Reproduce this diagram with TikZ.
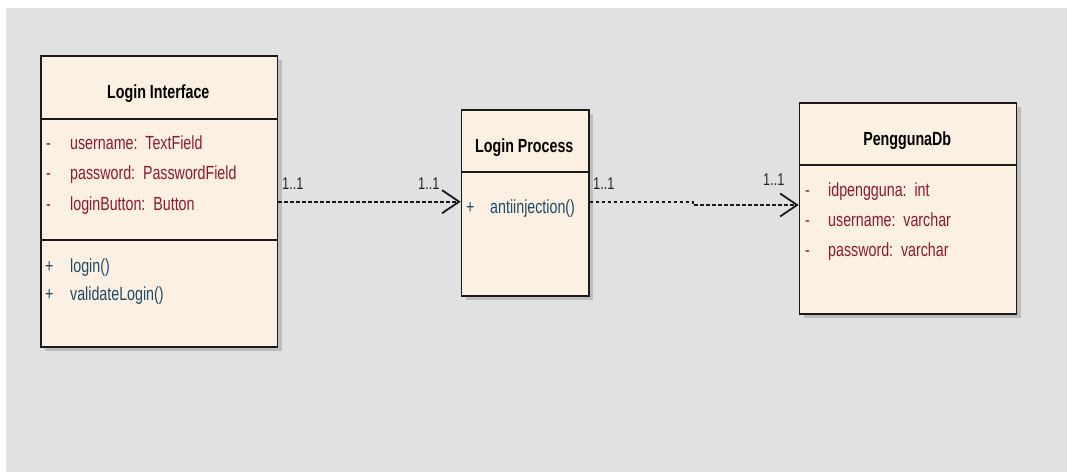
\documentclass[tikz,border=0pt]{standalone}
\usepackage{fontspec}
\setmainfont{Liberation Sans}[FakeStretch=0.75]
\usetikzlibrary{arrows.meta,shadows}
\definecolor{bg}{HTML}{E1E1E1}
\definecolor{boxfill}{HTML}{FBF0E1}
\definecolor{shade}{HTML}{BDBDBD}
\definecolor{attr}{HTML}{8E1B2C}
\definecolor{meth}{HTML}{1F4B68}
\definecolor{edge}{HTML}{1A1A1A}
\tikzset{
  umlbox/.style={draw=edge, line width=1.6pt, fill=boxfill, anchor=north west, inner sep=0pt,
    general shadow={fill=shade, shadow xshift=4pt, shadow yshift=-4pt}},
  divider/.style={draw=edge, line width=1.6pt},
  title/.style={font=\fontsize{19}{21}\selectfont\bfseries, anchor=base, inner sep=0pt, text=black},
  attrtxt/.style={font=\fontsize{19}{21}\selectfont, anchor=base west, inner sep=0pt, text=attr},
  methtxt/.style={font=\fontsize{19}{21}\selectfont, anchor=base west, inner sep=0pt, text=meth},
  mult/.style={font=\fontsize{17}{19}\selectfont, anchor=base west, inner sep=0pt, text=black!85},
  dep/.style={draw=edge, line width=2pt, dash pattern=on 3.5pt off 2.5pt,
    -{Straight Barb[length=17pt,width=23pt,line width=1.8pt]}}
}
\begin{document}
\begin{tikzpicture}[x=1pt,y=-1pt]
\useasboundingbox (0,0) rectangle (1067,472);
\fill[white] (0,0) rectangle (1067,472);
\fill[bg] (6,8) rectangle (1067,472);

% Login Interface
\node[umlbox, minimum width=236.7pt, minimum height=291pt] (li) at (40,55) {};
\draw[divider] (li.west |- 0,119) -- (li.east |- 0,119);
\draw[divider] (li.west |- 0,240) -- (li.east |- 0,240);
\node[title] (lit) at (158.3,98) {Login Interface};
\node[attrtxt] (lia1d) at (46,149) {-};
\node[attrtxt] (lia1) at (70,149) {username:\ \ TextField};
\node[attrtxt] (lia2d) at (46,179) {-};
\node[attrtxt] (lia2) at (70,179) {password:\ \ PasswordField};
\node[attrtxt] (lia3d) at (46,210) {-};
\node[attrtxt] (lia3) at (70,210) {loginButton:\ \ Button};
\node[methtxt] (lim1p) at (45,272) {+};
\node[methtxt] (lim1) at (70,272) {login()};
\node[methtxt] (lim2p) at (45,300) {+};
\node[methtxt] (lim2) at (70,300) {validateLogin()};

% Login Process
\node[umlbox, minimum width=127.3pt, minimum height=186pt] (lp) at (460.7,109) {};
\draw[divider] (lp.west |- 0,172) -- (lp.east |- 0,172);
\node[title] (lpt) at (524.3,152) {Login Process};
\node[methtxt] (lpm1p) at (466,213) {+};
\node[methtxt] (lpm1) at (490,213) {antiinjection()};

% PenggunaDb
\node[umlbox, minimum width=217pt, minimum height=211pt] (db) at (798.7,102) {};
\draw[divider] (db.west |- 0,165) -- (db.east |- 0,165);
\node[title] (dbt) at (907.2,145) {PenggunaDb};
\node[attrtxt] (dba1d) at (805,196) {-};
\node[attrtxt] (dba1) at (828,196) {idpengguna:\ \ int};
\node[attrtxt] (dba2d) at (805,226) {-};
\node[attrtxt] (dba2) at (828,226) {username:\ \ varchar};
\node[attrtxt] (dba3d) at (805,256) {-};
\node[attrtxt] (dba3) at (828,256) {password:\ \ varchar};

% connectors
\coordinate (bend1) at (693,201.7);
\coordinate (bend2) at (693,205);
\draw[dep] (li.east |- 0,201.7) -- (lp.west |- 0,201.7);
\draw[dep] (lp.east |- 0,201.7) -- (bend1) -- (bend2) -- (db.west |- 0,205);

% multiplicities
\node[mult] (m1) at (282,189) {1..1};
\node[mult] (m2) at (418,189) {1..1};
\node[mult] (m3) at (593,189) {1..1};
\node[mult] (m4) at (763,185) {1..1};
\end{tikzpicture}
\end{document}
